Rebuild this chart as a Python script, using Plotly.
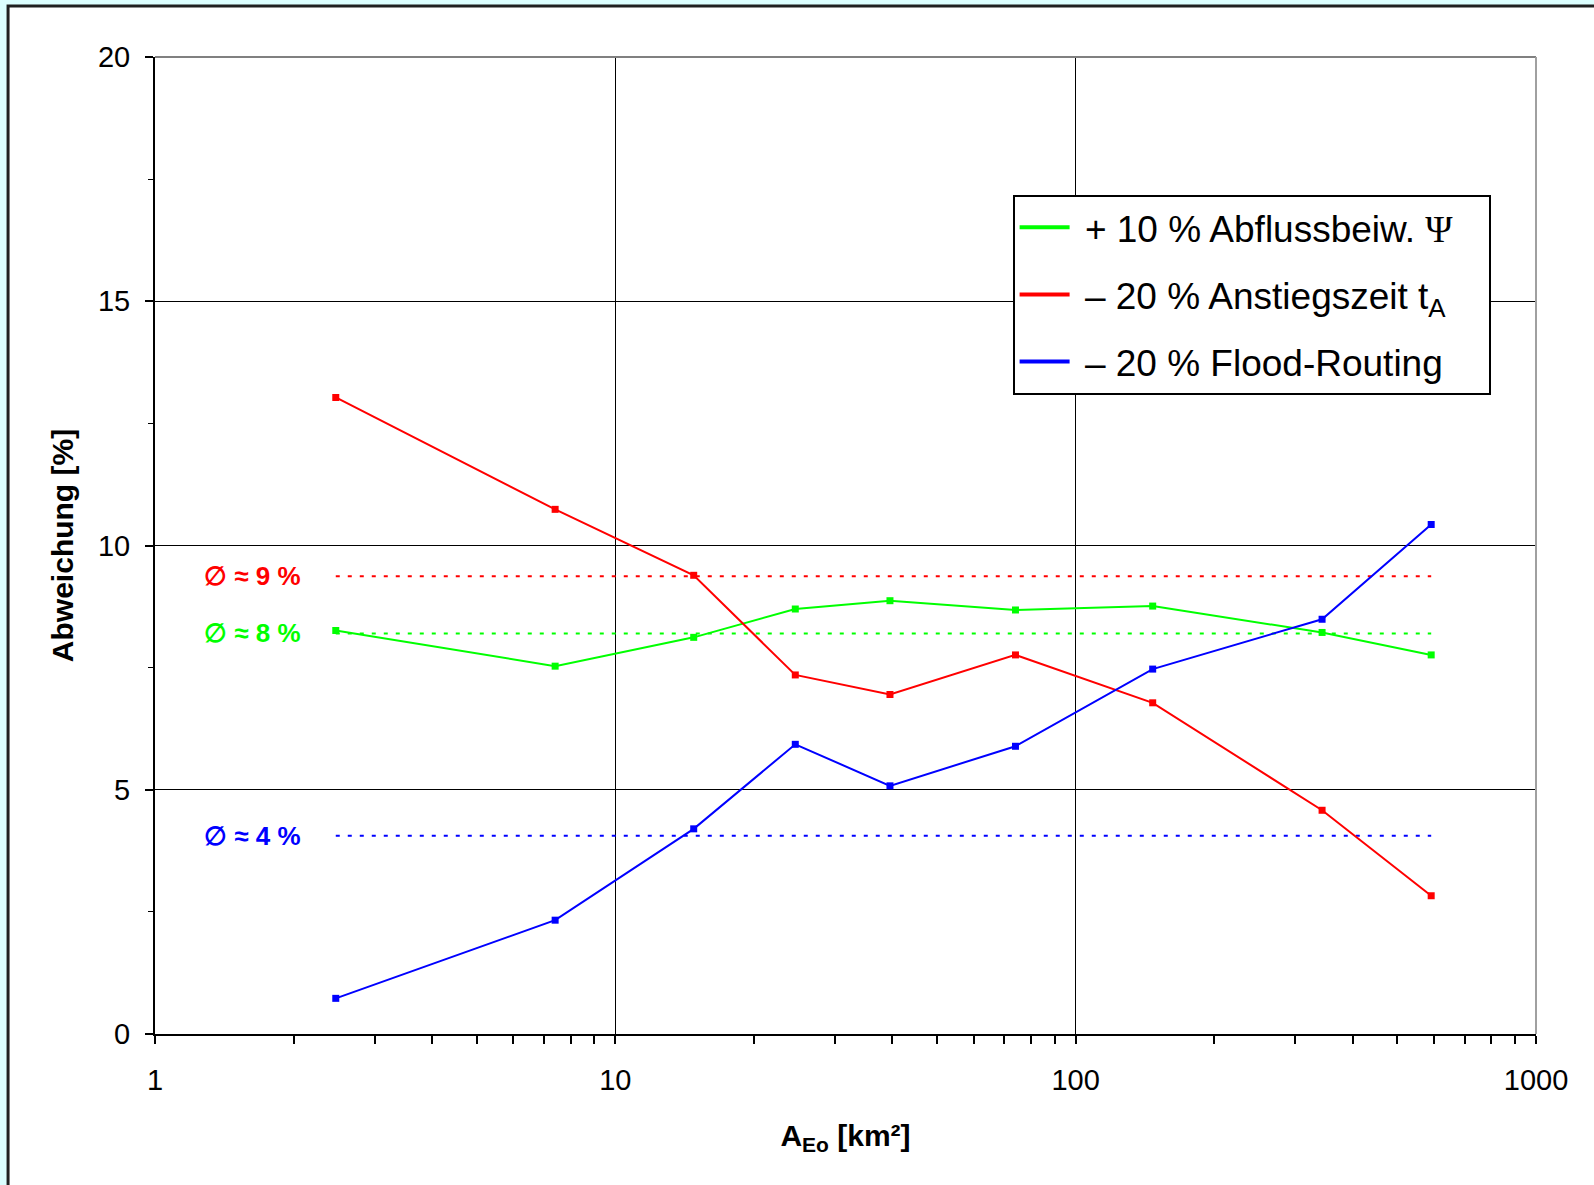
import plotly.graph_objects as go

# ---- data ----
area_km2 = [2.47, 7.4, 14.8, 24.6, 39.5, 74, 147, 343, 592]
psi_plus10 = [8.26, 7.53, 8.12, 8.70, 8.87, 8.68, 8.76, 8.22, 7.76]
ta_minus20 = [13.03, 10.74, 9.39, 7.35, 6.95, 7.76, 6.78, 4.58, 2.83]
flood_minus20 = [0.73, 2.33, 4.20, 5.93, 5.08, 5.89, 7.47, 8.49, 10.43]

mean_psi = 8.20
mean_ta = 9.37
mean_flood = 4.06
mean_labels = ["∅ ≈ 9 %", "∅ ≈ 8 %", "∅ ≈ 4 %"]

names = [
    "\u00a0+ 10 % Abflussbeiw. <span style='font-family:Liberation Serif'>Ψ</span>\u00a0\u00a0\u00a0",
    "\u00a0– 20 % Anstiegszeit t<sub>A</sub>",
    "\u00a0– 20 % Flood-Routing",
]
colors = ["#00ff00", "#ff0000", "#0000ff"]

FONT = "Arial, Liberation Sans, sans-serif"

fig = go.Figure()

series = [psi_plus10, ta_minus20, flood_minus20]
means = [mean_psi, mean_ta, mean_flood]

# mean (dotted) lines
for m, c in zip(means, colors):
    fig.add_trace(go.Scatter(
        x=[area_km2[0], area_km2[-1]], y=[m, m], mode="lines",
        line=dict(color=c, width=2, dash="4px,8px"),
        showlegend=False, hoverinfo="skip"))

for i, (vals, nm, c) in enumerate(zip(series, names, colors)):
    fig.add_trace(go.Scatter(
        x=area_km2, y=vals, mode="lines+markers", name=nm,
        showlegend=False,
        line=dict(color=c, width=2),
        marker=dict(symbol="square", size=7, color=c)))
    # legend entry (line sample only, like the reference)
    fig.add_trace(go.Scatter(
        x=[None], y=[None], mode="lines", name=nm, legendgroup=f"g{i}",
        line=dict(color=c, width=4), hoverinfo="skip"))

# mean labels
for lab, m, c in zip(mean_labels, [mean_ta, mean_psi, mean_flood],
                     ["#ff0000", "#00ff00", "#0000ff"]):
    fig.add_annotation(
        x=0.107, xref="paper", y=m, yref="y", xanchor="right", yanchor="middle",
        text=f"<b>{lab}</b>", showarrow=False,
        font=dict(family=FONT, size=26, color=c))

# outer frame (white panel with dark border on cyan background)
fig.add_shape(type="rect", xref="paper", yref="paper",
              x0=-0.1064, x1=1.2, y0=-0.3, y1=1.0522,
              line=dict(color="#202020", width=3), fillcolor="white", layer="below")
# grey top and right border of plot area
fig.add_shape(type="line", xref="paper", yref="paper", x0=0, x1=1, y0=1, y1=1,
              line=dict(color="#808080", width=2), layer="above")
fig.add_shape(type="line", xref="paper", yref="paper", x0=1, x1=1, y0=0, y1=1,
              line=dict(color="#a0a0a0", width=2), layer="above")

fig.update_layout(
    width=1594, height=1185,
    margin=dict(l=155, r=58, t=57, b=151),
    paper_bgcolor="#dcffff", plot_bgcolor="white",
    font=dict(family=FONT, color="black"),
    legend=dict(
        x=0.621, y=0.859, xanchor="left", yanchor="top",
        bgcolor="white", bordercolor="black", borderwidth=2,
        font=dict(family=FONT, size=37, color="black"),
        traceorder="grouped", tracegroupgap=16, itemwidth=50),
)

fig.update_xaxes(
    type="log", range=[0, 3], dtick=1, exponentformat="none",
    showline=True, linecolor="black", linewidth=2,
    ticks="outside", ticklen=8, tickwidth=2, tickcolor="black",
    tickfont=dict(family=FONT, size=29), ticklabelstandoff=11,
    showgrid=True, gridcolor="black", gridwidth=1,
    minor=dict(ticks="outside", ticklen=8, tickwidth=2, tickcolor="black",
               dtick="D1", showgrid=False),
    zeroline=False,
    title=dict(text="<b>A<sub>Eo</sub> [km²]</b>", font=dict(family=FONT, size=30),
               standoff=30),
)
fig.update_yaxes(
    range=[0, 20], dtick=5,
    showline=True, linecolor="black", linewidth=2,
    ticks="outside", ticklen=8, tickwidth=2, tickcolor="black",
    tickfont=dict(family=FONT, size=29), ticklabelstandoff=9,
    showgrid=True, gridcolor="black", gridwidth=1,
    minor=dict(ticks="outside", ticklen=5, tickwidth=1, tickcolor="black",
               dtick=2.5, showgrid=False),
    zeroline=False,
    title=dict(text="<b>Abweichung [%]</b>", font=dict(family=FONT, size=30),
               standoff=15),
)

fig.write_html(
    "out.html",
    config={"displayModeBar": False},
    post_script="document.body.style.margin='0';document.body.style.background='#dcffff';",
)
